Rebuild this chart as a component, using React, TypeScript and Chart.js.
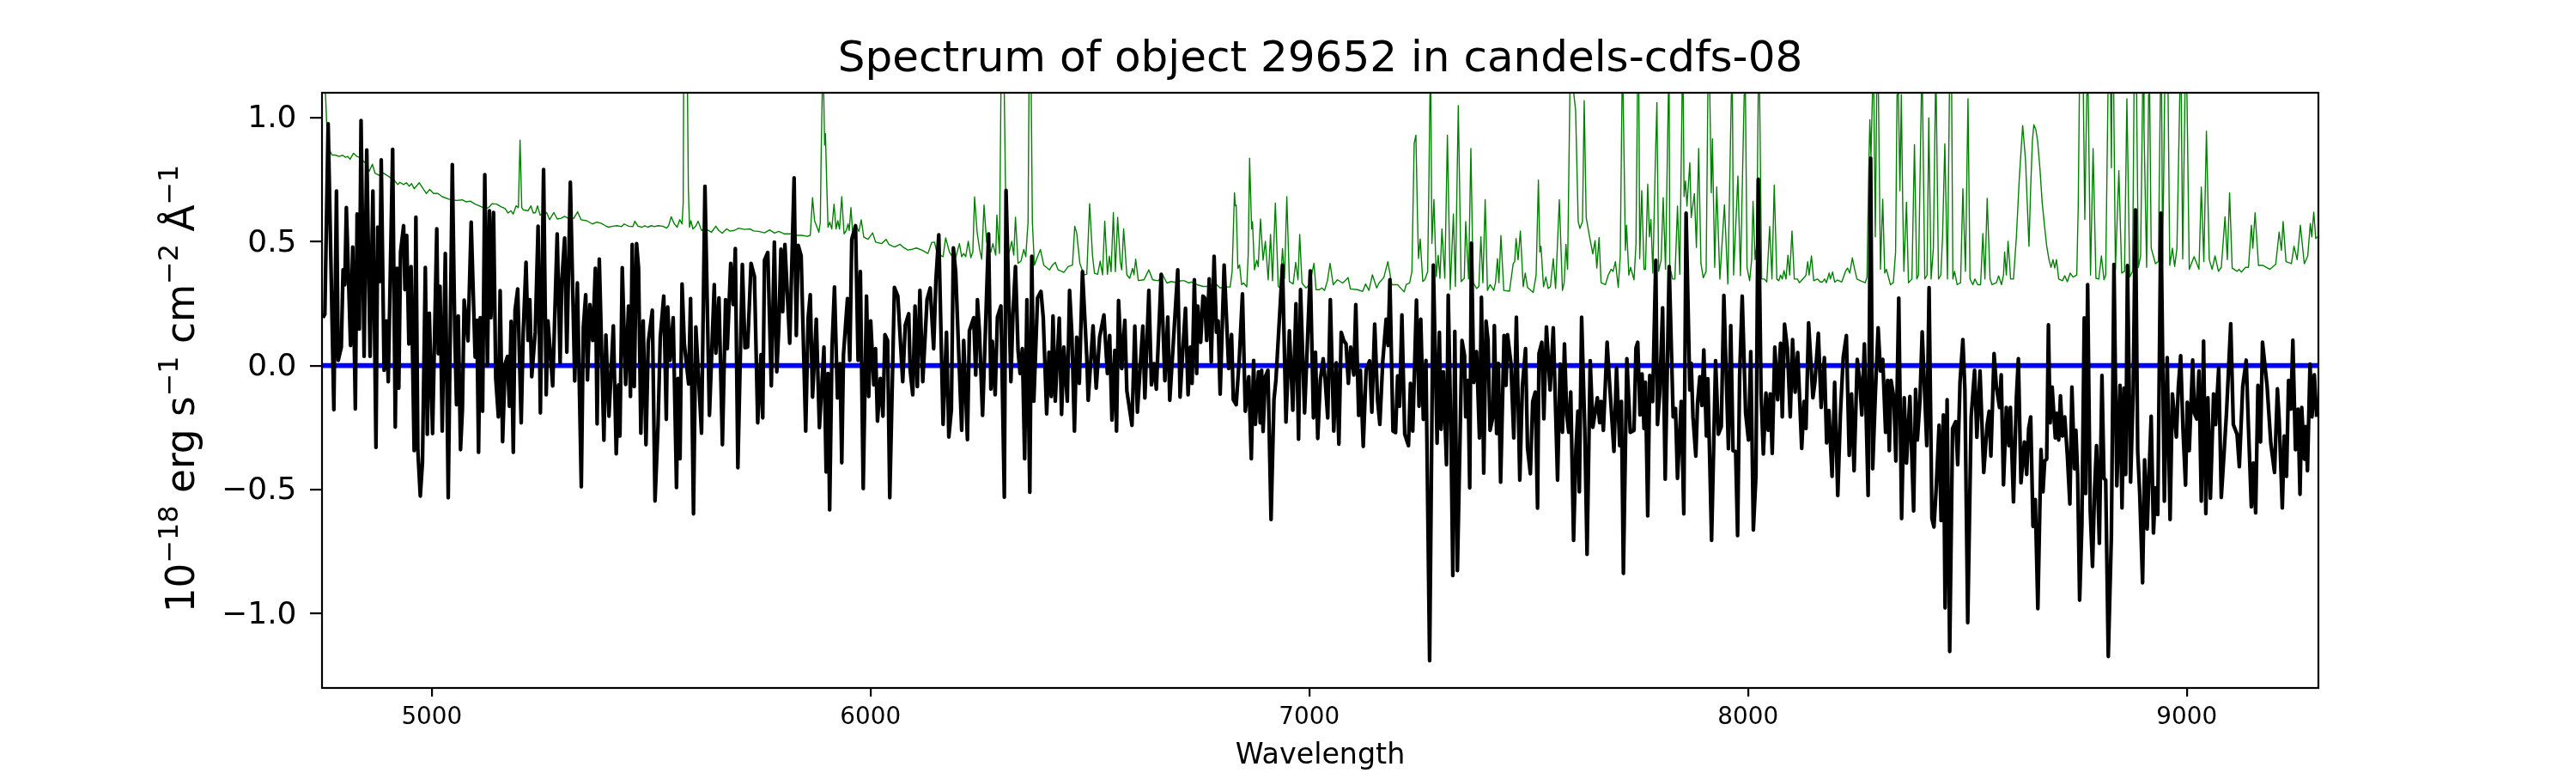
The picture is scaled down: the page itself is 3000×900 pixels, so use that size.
import React, { useEffect, useRef } from "react";
import { Chart, registerables } from "chart.js";

Chart.register(...registerables);

const titleText = "Spectrum of object 29652 in candels-cdfs-08";
const xAxisLabel = "Wavelength";
const yAxisRuns: [string, boolean][] = [
  ["10", false], ["\u221218", true], [" erg s", false], ["\u22121", true],
  [" cm", false], ["\u22122", true], [" Å", false], ["\u22121", true],
];
const xTickValues = [5000, 6000, 7000, 8000, 9000];
const yTickValues = [-1, -0.5, 0, 0.5, 1];
const xRange = [4750, 9300];
const yRange = [-1.3, 1.1];

const zeroWavelength = [4750, 9300];
const zeroFlux = [0, 0];

const sciWavelength = [
4752,4756.5,4764,4771.5,4777,4783,4787,4794,4798,4802,4805.5,4810,4815,4820,4826,4830,4835,4839,4846,4852,4859.6,4866,4873,4877,4882,4885,4891.5,4897,4901,4911,4917,4921,4925,4929,4936,4939,4943,4948,4953,4960,4964,4968.5,4974,4979,4985.5,4990,4994.6,5002,5011.6,5015,5019,5024,5031,5037.7,5047,5052.7,5056.6,5060.5,5065.7,5070,5074,5082.7,5090,5099,5103,5106.8,5110.7,5116,5121,5127,5131.6,5135,5141,5146,5152,5156,5161.6,5167.5,5172.7,5177,5181,5186,5190,5196,5204,5208.6,5215,5219.7,5223.6,5228,5236,5242.5,5247.7,5255,5261,5265,5275.8,5286,5292.7,5296.6,5303,5308,5316,5326,5332,5341,5345.6,5351,5355,5360.6,5367,5373,5377,5382,5392.5,5397,5404,
5414,5420.6,5425.8,5429,5434.3,5442,5448.6,5453,5457,5461.7,5467,5471.5,5476.7,5482,5488.4,5493.6,5502.8,5509,5515.8,5521,5528.9,5534.7,5538,5543,5550.4,5558,5561.5,5566,5570.6,5575.8,5585.6,5590,5596.7,5602,5615,5622.8,5633,5644,5647.6,5654.7,5662.6,5669.8,5673.7,5681.5,5687.4,5692,5697.8,5708,5714,5720,5724,5727.8,5735.6,5743,5750.6,5754.5,5758.5,5766,5774,5781,5786.5,5791,5796,5800,5805,5816,5826,5831,5835.4,5842,5852.4,5858,5862.8,5868,5876.5,5883.7,5889,5894,5899,5903.3,5907,5912.4,5918,5924.8,5930.7,5934.6,5938.5,5947.6,5952.9,5957.4,5966,5971.8,5977,5983.5,5991,5996,6000.5,6007.7,6011.6,6016,6022.6,6028.5,6033,6039,6044,
6054.6,6062.4,6073.5,6079.4,6087.2,6090.5,6096.4,6101.6,6106.8,6112.7,6119.2,6129,6136.2,6144,6149.2,6155.7,6165.5,6173.3,6178.6,6184.4,6189,6194.2,6200.7,6207.9,6212.5,6221,6225.5,6235.3,6239.9,6243.8,6248.4,6255.5,6261.4,6269.2,6274.4,6277.7,6284.2,6289.4,6297.3,6305.1,6309,6320.1,6324.7,6330.5,6336.4,6341,6346.2,6351.4,6356.6,6363.2,6367.7,6372.3,6380.8,6388.6,6393.8,6401.6,6406.9,6412.1,6416,6421.2,6430.3,6435.6,6440.8,6448.6,6453.8,6459,6464.9,6470.1,6476,6483.2,6493,6496.2,6507.3,6514.5,6522.3,6532.1,6540,6545.2,6550.4,6556.9,6560.8,6565.4,6572.6,6579.7,6584.3,6596,6602.5,6608.4,6613.6,6620.8,6625.4,6634.5,6640.4,6646.3,6651.5,6662.6,6671,6677.6,6682.1,6688.7,6700.4,
6705.6,6712.1,6718,6723.9,6729.1,6733,6738.2,6743.5,6746.1,6752.6,6757.8,6761.7,6766.3,6772.2,6776.7,6783.2,6788.5,6792.4,6797,6806.1,6816.5,6823,6827,6833.5,6840.6,6847.8,6854.3,6862.2,6868,6873.3,6877.2,6884.4,6888.3,6891.5,6894.8,6900,6905.9,6913,6919.6,6924.1,6939.1,6947,6954.8,6962.6,6969.8,6975.7,6980.2,6989.4,7002.4,7009.6,7014.2,7019.4,7025.3,7031.8,7036.3,7042.2,7048.1,7055.9,7061.8,7067.6,7072.9,7078.7,7083.9,7089.2,7094.4,7101.6,7106.1,7112.7,7116.6,7123.1,7129.6,7137.5,7142.7,7149.2,7155.7,7160.9,7167.5,7175.3,7179.8,7183.8,7190.9,7196.8,7201.4,7205.9,7211.2,7217.7,7226.2,7230.7,7235.9,7244.4,7250.3,7254.2,7260.1,7266,7274.4,7282.9,7291.4,7296.6,7300.5,7305.7,7312.9,7316.8,7323.4,7327.3,7331.8,7337.7,7348.1,
7354,7356.6,7361.8,7365.8,7369.7,7374.9,7381.4,7388,7392.5,7397.7,7403,7407.5,7412.1,7418.6,7421.9,7427.1,7431,7436.2,7444,7448.6,7451.9,7459.7,7466.2,7472.1,7479.9,7485.8,7493,7497.5,7504,7509.3,7515.1,7520.4,7523.6,7530.1,7534.7,7540.6,7549,7556.2,7566,7571.9,7577.1,7581.7,7586.9,7591.5,7596,7602.5,7607.8,7612.3,7615.6,7620.8,7628,7633.2,7640.4,7646.3,7656.7,7661.9,7665.2,7670.4,7678.9,7684.7,7694.5,7700.4,7707.6,7711.5,7716,7723.9,7731.7,7740.2,7744.7,7748.7,7753.9,7758.5,7763,7766.3,7771.5,7776.1,7782.6,7789.8,7793.7,7798.9,7805.4,7811.3,7820.4,7829.5,7834.8,7839.3,7847.8,7853.7,7858.9,7867.4,7870.6,7874.6,7881.1,7885,7890.2,7894.8,7899.3,7905.2,7908.5,7917,7926.1,7932.6,7939.1,7945,7955.4,7960.7,7965.9,7971.8,7976.3,7980.9,7986.8,7994.6,8001.1,
8006.3,8012.2,8018.1,8023.3,8029.8,8035,8040.9,8046.1,8050.7,8055.2,8061.1,8067.6,8074.2,8078.1,8083.3,8089.8,8096.3,8101.6,8107.4,8113.3,8122.4,8127.7,8132.2,8138.1,8147.9,8152.4,8160.3,8166.8,8174,8179.2,8184.4,8191.6,8197.5,8204.6,8210.5,8217,8224.2,8230.7,8235.9,8241.8,8249,8254.2,8259.4,8265.3,8273.8,8279.6,8284.2,8290.1,8296.6,8301.8,8307.1,8313.6,8318.1,8322,8326,8332.5,8337,8343.6,8350.1,8356,8361.2,8369,8377.5,8382,8386,8391.8,8397,8407.5,8412.7,8419.2,8423.8,8429,8435.5,8440.1,8445.3,8449.2,8453.8,8459.7,8466.2,8473.4,8478,8483.2,8489.7,8494.3,8500.8,8508.6,8516.4,8521.6,8528.8,8537.3,8545.1,8549.7,8553.6,8560.8,8566,8573.2,8577.1,8582.3,8588.8,8594.7,8598,8605.1,8611.7,8616.2,8622.1,8629.9,8635.1,8639.7,8644.3,8649.5,
8654.7,8660.6,8667.8,8672.3,8676.2,8680.8,8684.7,8688.6,8693.2,8700.4,8703.6,8708.2,8712.1,8716.7,8721.9,8727.8,8733.6,8738.2,8744.1,8747.3,8751.3,8755.8,8761,8766.3,8769.5,8774.1,8780,8785.2,8789.8,8794.3,8800.8,8806.7,8811.3,8815.2,8821.1,8828.2,8834.1,8840.6,8847.8,8852.4,8856.9,8860.9,8864.8,8871.9,8877.8,8883,8888.2,8892.8,8899.3,8903.9,8909.8,8913.7,8918.9,8924.1,8928.7,8933.9,8941.1,8948.9,8955.4,8962,8967.2,8976.3,8980.9,8986.1,8991.3,8997.2,9001.1,9005.7,9013.5,9017.4,9022.6,9027.8,9033.1,9038.3,9043.5,9048.1,9053.9,9061.1,9065.7,9072.8,9078.7,9085.2,9090.5,9100.2,9106.1,9114.6,9119.8,9127.6,9135.5,9140.7,9147.2,9151.8,9157,9162.2,9168.1,9172.6,9183.1,9191.6,9200,9206.6,9210.5,9217.7,9222.2,9227.4,9232,9237.2,9241.8,9247.7,9253.5,9258.1,9262,9267.9,9271.1,9275.1,9280.9,9285.5,9290.7,9296,
];

const sciFlux = [
.193,.207,.975,.313,-.178,.704,.021,.074,.386,.326,.637,.379,.081,.478,-.175,.611,.147,.988,.037,.869,.037,.704,-.33,.558,.339,.829,-.019,.18,-.065,.872,-.248,.392,-.091,.458,.564,.306,.525,.087,.399,-.343,.598,-.343,-.526,-.39,.396,-.277,.211,-.274,.551,.048,.319,-.264,.452,-.533,.81,.127,-.158,.2,-.339,-.178,.264,.1,.578,.034,.183,-.35,.193,-.184,.77,.001,.624,.193,.617,-.052,-.207,.302,-.307,.008,.037,-.164,.178,-.35,.223,.309,-.231,.134,.416,.101,.266,-.045,.134,.562,-.191,.79,-.118,.18,-.082,.531,.011,.342,.514,.054,.739,-.062,.333,-.489,.154,.286,-.058,.246,.101,.392,-.235,.429,-.301,.123,-.204,
.16,-.356,-.078,-.284,.395,-.076,.24,-.125,.488,-.085,.492,.392,-.273,.18,-.319,.094,.223,-.546,-.244,.114,.28,-.217,.236,.021,.193,-.492,-.052,-.376,.329,.087,-.074,.27,-.598,.156,-.273,.723,-.201,.326,.05,.273,-.319,.266,.068,.412,.246,.472,-.412,.408,.072,.074,.246,.412,.359,-.231,.044,-.211,.425,.456,-.082,.498,-.025,.147,.469,.217,.488,.09,.757,.121,.485,.443,-.264,.193,.286,-.127,.187,-.25,-.085,.074,-.429,-.032,-.582,.074,.317,-.131,.008,-.392,.044,.27,.021,.509,.564,.021,.379,-.496,.28,-.125,.18,-.078,.068,-.224,-.052,-.204,.125,.101,-.533,
.315,.28,-.065,.164,.209,-.019,-.118,.24,-.085,.303,-.065,.266,.313,.068,.346,.527,-.237,.134,-.288,-.178,.474,.379,.074,-.261,.101,-.299,.14,.193,-.038,.266,.134,-.201,.107,.531,-.095,.098,-.118,.196,.24,-.531,.706,-.065,.207,.399,.061,-.032,.068,-.376,.266,-.511,.441,-.144,.273,.299,.193,-.195,.054,-.125,.2,-.144,.191,-.197,.074,-.144,.303,.127,-.264,.114,-.072,.379,.034,-.14,.16,-.091,.114,.204,-.032,.121,-.22,.061,-.264,.262,-.012,.183,-.101,-.241,.159,-.188,-.038,.159,-.131,.303,-.078,.008,-.095,.368,-.061,.196,-.14,.048,.386,
-.127,.068,.231,-.118,.074,-.072,.346,-.032,.24,.094,.28,.273,.101,.35,.015,.441,.134,.18,-.115,.405,-.012,.125,-.138,-.158,.028,.289,-.184,-.045,-.376,.021,-.237,-.025,-.231,-.019,-.266,-.045,-.019,-.621,-.138,-.058,.405,-.228,.14,-.18,.249,-.297,.306,-.191,.382,-.211,.054,-.294,-.058,.028,-.058,-.211,.266,-.264,.011,-.317,.134,.101,.087,-.072,.074,-.038,.246,-.201,-.019,-.326,-.019,.019,-.188,.167,-.138,-.237,.015,.187,.081,.346,-.264,-.27,-.042,-.164,.204,-.277,-.323,-.072,-.264,.264,-.164,.187,-.217,.021,-1.19,.405,-.313,.134,-.257,-.025,-.4,.284,-.323,-.847,.138,-.827,.101,
.04,-.207,-.06,-.493,.493,-.068,.056,-.292,.275,-.434,.179,.102,-.261,-.207,.161,-.274,.009,-.47,.121,-.08,.125,.009,-.292,.195,-.462,-.083,.068,-.331,-.436,-.145,-.107,-.575,.048,.094,-.215,.156,-.099,.152,-.462,.006,-.269,.087,-.199,-.269,-.107,-.705,-.339,-.184,-.509,.195,-.254,-.761,.02,-.249,-.13,-.23,-.145,-.261,.094,-.076,-.346,-.009,-.323,-.145,-.838,.028,-.269,-.261,.071,.094,-.199,-.034,-.254,-.068,-.606,-.04,-.145,.424,-.238,-.107,.233,-.458,.399,-.207,-.173,-.455,-.145,-.598,.615,-.099,.009,-.207,-.365,-.153,-.045,-.161,.063,-.284,-.053,-.705,.02,-.277,-.246,.283,-.335,.161,-.343,-.346,-.686,-.045,.28,-.192,-.3,
.056,-.663,-.444,.751,-.114,-.357,-.111,-.261,-.114,-.354,.074,-.138,.09,-.207,.167,.068,-.207,.105,-.107,.053,-.334,-.145,-.254,.172,-.13,-.068,.13,-.169,.032,-.312,-.181,-.447,-.068,-.524,-.199,.032,.121,-.362,-.114,-.424,.025,-.053,-.199,.087,-.524,.836,-.416,-.122,.152,-.022,.025,-.269,-.06,-.343,-.06,-.13,-.385,.272,-.617,-.13,-.393,-.125,-.586,-.096,-.3,-.145,.136,-.323,.314,-.617,-.651,-.493,-.241,-.625,-.199,-.977,-.138,-1.153,-.254,-.226,-.4,-.068,.105,-.096,-1.037,-.207,-.019,-.289,-.022,-.431,-.238,-.184,-.365,.048,-.083,-.169,-.037,-.481,-.169,-.323,-.169,-.55,-.13,.028,-.473,-.308,-.439,-.254,-.207,-.648,
-.54,-.98,-.339,-.509,-.385,-.377,.164,-.231,-.087,-.292,-.192,-.3,-.122,-.284,-.207,-.362,-.558,-.087,-.416,-.261,-.439,-.946,-.64,.192,-.516,.326,-.586,-.81,-.501,-.323,-.717,-.04,-.455,-.462,-1.173,-.686,.408,-.485,-.08,-.574,-.091,-.439,.403,-.47,-.114,.628,-.346,-.516,-.876,-.38,-.659,-.455,-.204,-.675,-.493,-.601,.615,-.547,.032,-.621,-.114,-.288,-.083,.04,-.254,-.482,-.148,-.343,.022,-.192,-.215,-.022,-.547,.099,-.597,-.13,-.535,-.114,-.238,-.009,-.532,-.346,-.192,.169,-.238,-.277,-.408,-.083,.022,-.254,-.57,-.393,-.594,-.08,-.308,.094,-.083,-.315,-.431,-.094,-.215,-.574,-.284,-.447,-.06,-.176,.102,-.339,-.176,-.519,-.169,-.377,-.246,-.424,.006,-.207,-.037,-.207,
];

const noiseWavelength = [
4750,4758,4760.4,4764.4,4772.8,4779.4,4789,4797,4803.5,4808.7,4814,4821.8,4829.6,4836,4847.8,4857.6,4864.8,4870.7,4880.5,4890.2,4903.3,4913,4922.9,4927.4,4935.9,4942.4,4949,4954.2,4960,4971.8,4981.6,4988,4995.3,5004.4,5014,5024,5040.3,5056.6,5069.6,5079.4,5087.9,5099,5114,5121.8,5129.6,5138,5147.9,5157.7,5167.5,5174,5180.5,5185.7,5192.3,5197.5,5201.4,5205.3,5208.6,5219.7,5226.2,5231.4,5236.6,5241.2,5247,5255.5,5262,5268.6,5278.4,5286.2,5294.7,5303,5311,5324,5332.5,5340.3,5353.4,5366.4,5376.2,5386,5395.8,
5403,5412.7,5422.5,5432.3,5438.8,5448.6,5458.4,5463,5470.1,5479.3,5485.8,5492.3,5500.8,5507.3,5515.8,5526.9,5535.4,5540,5545.8,5553,5559.5,5565.4,5570.6,5573.2,5577,5580,5583,5585,5587.6,5590.8,5595.4,5601.9,5607.1,5615,5624.7,5637.8,5647.6,5654.1,5662,5672.4,5680.2,5690,5699.8,5712.8,5725.9,5733.7,5745.4,5758.5,5770.2,5781.3,5791,5804.1,5817.2,5830.2,5843.3,5856.3,5862.8,5868,5872.6,5882.4,5885.7,5887.6,5890,5892,5893.5,5895.5,5897.4,5900.7,5903.3,5907.2,5911.8,5917,5921.5,5925.5,5929.4,5934.6,5939.8,5945,5949,5951.6,5955.5,5959.4,5968.5,5973.7,5979,5984.8,5994.6,6005,6011.6,6025.9,6035.7,6042.2,6055,
6067.7,6075.5,6085.3,6095,6104.8,6117.9,6131,6139.4,6146,6151.8,6165.5,6171.4,6179.9,6186.4,6194.2,6202.7,6207.9,6212.5,6217,6222.9,6228.8,6233.3,6237.3,6243.1,6248.4,6253.6,6258.8,6264.7,6274.4,6279,6285.5,6288.1,6294,6297.3,6300,6302.5,6305,6307.7,6313.6,6318.1,6322,6326.6,6330.5,6336.4,6342.9,6349.5,6354,6357.3,6359.2,6361.2,6363.2,6365,6366.4,6369,6373.6,6380.8,6387.3,6395,6408.2,6414.7,6421.2,6427.7,6440.8,6450.6,6460.4,6465.6,6470,6477.3,6486.4,6493,6499.5,6506,6510.6,6517.8,6523.6,6528.9,6534,6540,6544.5,6548.4,6553.6,6558.2,6563.4,6569.3,6572.6,6577,6584.3,6590.8,6597.3,6600.6,6604.5,6610.4,6623.4,6634.5,6643,6656,6665.8,6675.6,6685.4,6701.7,
6707,6715.4,6725.2,6731.7,6744.8,6757.8,6770.9,6780.6,6787.2,6797,6806.7,6819.8,6824.3,6829.6,6831.5,6833.5,6837.4,6841.3,6845.9,6850.4,6857.6,6860.9,6864.1,6868.7,6870.7,6875.2,6880.4,6883.7,6888.9,6894.8,6900,6906.5,6911.8,6916.3,6922.8,6929.4,6933.9,6939.1,6943.7,6948.9,6954.8,6963.3,6969.2,6974.4,6978.3,6983.5,6992.6,7000.5,7010.9,7015.5,7023.3,7028.5,7035,7041.5,7047.4,7054.6,7064.4,7076.1,7084,7088.5,7093.7,7110,7121.8,7128.3,7136.1,7144,7153.8,7159,7170,7179.2,7188.3,7194.9,7201.4,7216.4,7221,7228.8,7234,7239.2,7243.1,7247,7249,7252.9,7258.8,7263.3,7269.9,7272.5,7275.1,7276.4,7279.6,7284.2,7289.4,7294,7297.9,7302.5,7309,7314.9,7321.4,7328.6,7333.1,7339.7,7346.2,7353.4,
7356.6,7363.2,7368.4,7373.6,7381.4,7386.6,7391.2,7395.8,7401,7406.2,7412.1,7420.6,7424.5,7429,7432.3,7436.9,7443.4,7456.4,7464.9,7468.2,7471.4,7476,7481.2,7487.7,7492.3,7497.5,7510.6,7517.1,7522.3,7525.6,7528.2,7534,7539.3,7544.5,7549.7,7556.2,7561.5,7570,7577.1,7581,7585,7588.8,7594,7596.7,7601.9,7603.2,7607.1,7613,7616.9,7622.8,7626.7,7631.2,7639,7646.3,7651.5,7655.4,7660.6,7665.2,7675,7681.5,7688,7692.6,7697.8,7704.3,7708.9,7712.8,7714,7715.4,7720.6,7723.2,7728.4,7732.4,7740.2,7744.7,7748,7749.3,7751.3,7753.2,7757.8,7763,7766.3,7771.5,7775.4,7778.7,7783.2,7788.5,7792.4,7796.3,7802.1,7806.7,7812,7818.5,7819.8,7821.7,7828.2,7833.4,7839.3,7844.5,7849.8,7851,7854.3,7857.6,7860.9,7867.4,7870.6,7877.8,7882.4,7887.6,7892.8,7898,7904.6,7908.5,7910.4,7913,7916.3,7918.9,7924.1,7928.7,7935.9,7946.3,7954.1,7962,7963.3,7967.2,7977,7982.8,7991.3,7992.6,7997.8,
8003.7,8008.3,8011.5,8016.1,8020,8023.3,8024.6,8026.5,8031.1,8037.6,8042.9,8049.4,8054.6,8059.8,8065.7,8070.3,8074.2,8078.1,8082,8086.6,8091.1,8095,8100.3,8105.5,8112.7,8117.2,8129,8132.2,8136.1,8139.4,8144.6,8149.8,8158.3,8164.8,8169.4,8174.6,8178.5,8185,8187.7,8192.9,8197.5,8204,8213.8,8222.2,8226.8,8232,8237.9,8243.1,8248.3,8256.2,8267.2,8271.2,8274.4,8277.7,8280.3,8283.6,8284.9,8286.8,8290.1,8293.3,8295.3,8297.3,8301.8,8307,8311.6,8315.5,8324.7,8331.2,8336.4,8339.7,8341,8342.9,8346.2,8349.4,8352.7,8355.3,8361.2,8365.7,8373.6,8379.4,8384.7,8388.6,8395.1,8396.4,8397.7,8402.9,8408.1,8412,8417.3,8422.5,8427.1,8427.7,8429,8434.2,8439.5,8443.4,8448.6,8454.5,8459,8461.6,8464.2,8466.9,8470.8,8476.6,8484.5,8489.7,8495.6,8501.4,8506,8512.5,8517.1,8523.6,8530.1,8535.3,8540,8545.1,8551.7,8556.2,8566,8571.2,8577.7,8582.3,8584.9,8588.8,8592.7,8598.6,8605.1,8611.7,8618.2,8626,8632.5,8640.4,8644.3,8648.2,
8651.5,8656,8660,8665.2,8670.4,8675.6,8680.8,8686,8690.6,8695.2,8699.1,8703,8708.2,8716.7,8721.9,8727.8,8734.3,8740.8,8749.3,8752.6,8755.2,8759.7,8764.3,8767.6,8772.1,8773.4,8775.4,8780.6,8786.5,8793,8799.5,8805.4,8811.3,8815.2,8820.4,8824.3,8828.2,8830.8,8833.5,8837.4,8845.2,8851.7,8858.2,8863.5,8870,8876.5,8879.8,8883,8885.6,8889.6,8894.8,8899.3,8901.3,8902.6,8908.5,8913,8914.3,8918.9,8928.7,8935.2,8939.8,8941.7,8945,8949.6,8953.5,8957.4,8961.3,8967.2,8972.4,8977.6,8984.1,8986,8990.7,8995.9,8998.5,9000.4,9005.7,9016.7,9027.8,9033.1,9038.9,9044.8,9051.3,9057.8,9064.4,9072.2,9078.7,9087.2,9092.4,9097.6,9103.5,9114.6,9119.2,9124.4,9134.2,9140.7,9147.2,9150.5,9155.7,9163.5,9173.3,9189.6,9202.7,9210.5,9215.7,9219.6,9226.2,9238.5,9244.4,9251.6,9258.8,9267.9,9275.7,9281.6,9284.9,9289.4,9294,9297.2,
];

const noiseFlux = [
1.5,1.094,.988,.88,.849,.849,.843,.848,.84,.843,.832,.856,.843,.839,.819,.783,.812,.776,.767,.776,.761,.75,.73,.739,.73,.737,.723,.734,.713,.737,.71,.694,.71,.694,.694,.681,.67,.666,.668,.66,.663,.651,.64,.633,.637,.653,.651,.641,.633,.615,.624,.611,.644,.637,.909,.637,.628,.624,.644,.615,.617,.644,.607,.611,.617,.588,.617,.591,.594,.602,.594,.594,.62,.588,.584,.571,.578,.574,.564,
.558,.562,.564,.56,.571,.562,.56,.582,.562,.558,.564,.558,.564,.56,.564,.562,.554,.564,.6,.571,.558,.588,.571,.657,2.5,2.5,1.1,.71,.558,.584,.551,.562,.582,.545,.551,.538,.562,.545,.534,.551,.542,.545,.554,.549,.551,.543,.541,.535,.547,.534,.541,.531,.531,.525,.525,.521,.525,.677,.584,.538,.578,.843,1.094,1.6,1.094,.889,.935,.71,.558,.578,.551,.651,.551,.584,.551,.681,.531,.545,.571,.545,.637,.538,.558,.541,.588,.518,.509,.535,.498,.492,.509,.488,.478,
.489,.476,.466,.469,.474,.465,.452,.496,.498,.452,.439,.515,.458,.439,.435,.492,.439,.452,.439,.501,.435,.458,.68,.538,.472,.429,.647,.498,.458,.492,.445,.607,.452,1.094,3,3,1.094,.73,.439,.472,.501,.445,.598,.412,.421,.468,.439,.531,.578,1.094,1.8,1.8,1.094,.578,.405,.439,.468,.405,.386,.405,.416,.386,.376,.399,.405,.562,.535,.412,.366,.368,.653,.445,.372,.368,.421,.366,.582,.368,.441,.379,.617,.379,.598,.419,.386,.551,.366,.352,.392,.366,.429,.343,.346,.386,.346,.342,.366,.333,.339,.333,
.342,.342,.333,.337,.326,.319,.319,.326,.329,.313,.317,.317,.379,.697,.644,.647,.392,.405,.326,.333,.317,.445,.836,.551,.58,.386,.425,.399,.591,.425,.501,.346,.529,.342,.655,.319,.313,.472,.352,.681,.339,.329,.416,.346,.529,.333,.313,.326,.412,.306,.306,.313,.303,.342,.412,.326,.346,.333,.346,.355,.309,.306,.299,.329,.303,.366,.313,.333,.355,.419,.326,.326,.326,.297,.326,.333,.379,.896,.929,.578,.432,.511,.339,.346,.379,.71,1.094,1.3,.492,.67,.359,.445,.352,.551,.352,.929,.306,.611,.319,1.048,.339,.352,
.581,.349,.875,.334,.311,.318,.519,.334,.669,.303,.326,.303,.334,.431,.334,.524,.303,.3,.411,.419,.512,.427,.543,.318,.373,.315,.295,.365,.748,.458,.481,.318,.357,.311,.318,.431,.311,.669,.303,.334,.489,.388,1.092,1.3,1.25,1.092,1.03,.581,.553,.581,1.068,.597,.519,.45,.504,.393,.516,.334,.326,.365,.388,.38,.419,.315,.442,1.092,1.4,1.092,.465,.566,.365,.396,.346,.489,1.092,1.5,1.092,.431,.705,.388,.388,.731,.519,.589,.373,.798,1.06,.38,.427,.677,.388,1.092,1.4,.396,.349,.349,.643,.368,1.092,1.4,.682,.744,.643,.818,.597,.693,.476,.875,.411,.354,.38,1.092,1.4,1.092,.697,.914,.396,.72,.349,.648,.329,1.092,1.4,.365,.764,.362,1.092,1.4,.396,
.342,.427,.662,.427,.489,1.092,1.5,1.092,.349,.349,.337,.561,.349,.728,.349,.342,.365,.349,.383,.349,.445,.365,.543,.349,.349,.334,.357,.365,.419,.365,.442,.342,.349,.337,.337,.349,.334,.373,.349,.377,.337,.345,.337,.38,.393,.373,.434,.388,.349,.342,.334,.357,.72,.991,.844,1.092,1.4,1.092,.519,1.092,1.4,1.092,.388,.671,.373,.388,.326,.334,.458,1.092,1.4,1.092,.705,1.092,.643,.38,.659,.334,.349,.891,.349,.365,1.092,1.4,1.092,.349,.365,.999,.349,.473,1.092,1.3,1.092,.349,.365,.519,.894,.349,1.092,1.4,1.092,.349,.38,.326,.334,.713,.38,1.076,.349,.326,.349,.326,.326,.532,.349,.674,.349,.326,.334,.362,.326,.365,.458,.365,.501,.349,.349,.519,.751,.968,.829,.481,.72,.906,
.971,.952,.906,.798,.659,.566,.481,.427,.396,.427,.393,.427,.349,.342,.362,.338,.373,.357,.365,.643,1.092,1.5,1.092,.589,1.092,1.4,1.092,.365,.875,.352,.349,.442,.346,.365,1.092,1.5,.798,1.5,1.092,.388,.786,.373,.38,1.076,.357,.38,1.092,1.5,1.092,.396,.442,1.092,1.3,.952,.396,1.092,1.3,.473,.411,.419,1.092,1.4,.411,1.092,1.5,1.092,.404,.473,.4,.473,1.092,1.4,.43,1.092,1.4,1.092,.388,.439,.388,.72,.419,.945,.427,.388,.442,.38,.396,.6,.427,.697,.393,.38,.388,.377,.396,.396,.566,.473,.616,.404,.404,.388,.408,.538,.465,.581,.419,.411,.481,.427,.566,.411,.442,.573,.519,.619,.512,.519,
];

const zip = (xs: number[], ys: number[]) =>
  xs.slice(0, Math.min(xs.length, ys.length)).map((x, i) => ({ x, y: ys[i] }));

const FONT = "'DejaVu Sans'";
const Y_LABEL_SIZE = 45.4;
const Y_SUP_SIZE = 31.8;

const frame = {
  id: "frame",
  afterDatasetsDraw(chart: any) {
    const { ctx, chartArea: a } = chart;
    ctx.save();
    ctx.strokeStyle = "#000";
    ctx.lineWidth = 2.2;
    ctx.strokeRect(a.left, a.top, a.right - a.left, a.bottom - a.top);
    ctx.restore();
  },
};

const yAxisTitle = {
  id: "yAxisTitle",
  afterDraw(chart: any) {
    const { ctx, chartArea: a } = chart;
    const fontFor = (sup: boolean) => `${sup ? Y_SUP_SIZE : Y_LABEL_SIZE}px ${FONT}`;
    ctx.save();
    let total = 0;
    for (const [text, sup] of yAxisRuns) {
      ctx.font = fontFor(sup);
      total += ctx.measureText(text).width;
    }
    ctx.translate(226, (a.top + a.bottom) / 2 - 2);
    ctx.rotate(-Math.PI / 2);
    ctx.fillStyle = "#000";
    ctx.textAlign = "left";
    ctx.textBaseline = "alphabetic";
    let x = -total / 2;
    for (const [text, sup] of yAxisRuns) {
      ctx.font = fontFor(sup);
      ctx.fillText(text, x, sup ? -19 : 0);
      x += ctx.measureText(text).width;
    }
    ctx.restore();
  },
};

export default function App() {
  const ref = useRef<HTMLCanvasElement>(null);
  useEffect(() => {
    document.body.style.margin = "0";
    const chart = new Chart(ref.current as HTMLCanvasElement, {
      type: "line",
      data: {
        datasets: [
          { label: "flux", data: zip(sciWavelength, sciFlux), borderColor: "#000000", borderWidth: 4.3, order: 0 },
          { label: "zero", data: zip(zeroWavelength, zeroFlux), borderColor: "#0000ff", borderWidth: 5.56, order: 1 },
          { label: "noise", data: zip(noiseWavelength, noiseFlux), borderColor: "#008000", borderWidth: 1.39, order: 2 },
        ],
      },
      options: {
        responsive: false,
        devicePixelRatio: 1,
        animation: false,
        elements: { point: { radius: 0 }, line: { tension: 0, borderJoinStyle: "round" } },
        layout: { padding: { left: 0, right: 300, top: 0, bottom: 0 } },
        plugins: {
          legend: { display: false },
          tooltip: { enabled: false },
          title: {
            display: true,
            text: titleText,
            color: "#000",
            fullSize: false,
            font: { family: FONT, size: 50, weight: "normal", lineHeight: 1.2 },
            padding: { top: 40, bottom: 8 },
          },
        },
        scales: {
          x: {
            type: "linear",
            min: xRange[0],
            max: xRange[1],
            afterBuildTicks: (s: any) => { s.ticks = xTickValues.map((value) => ({ value })); },
            afterFit: (s: any) => { s.height = 99; },
            grid: { drawOnChartArea: false, drawTicks: true, tickLength: 10, tickColor: "#000", tickWidth: 2.2, lineWidth: 2.2 },
            border: { display: false },
            ticks: {
              color: "#000",
              font: { family: FONT, size: 27.8 },
              padding: 8,
              maxRotation: 0,
              autoSkip: false,
              callback: (v: any) => String(v),
            },
            title: {
              display: true,
              text: xAxisLabel,
              color: "#000",
              font: { family: FONT, size: 33.3 },
              padding: { top: 0, bottom: 0 },
            },
          },
          y: {
            type: "linear",
            min: yRange[0],
            max: yRange[1],
            afterBuildTicks: (s: any) => { s.ticks = yTickValues.map((value) => ({ value })); },
            afterFit: (s: any) => { s.width = 375; },
            grid: { drawOnChartArea: false, drawTicks: true, tickLength: 14, tickColor: "#000", tickWidth: 2.2, lineWidth: 2.2 },
            border: { display: false },
            ticks: {
              color: "#000",
              font: { family: FONT, size: 36 },
              padding: 15.5,
              labelOffset: 2,
              autoSkip: false,
              callback: (v: any) => Number(v).toFixed(1).replace("-", "\u2212"),
            },
          },
        },
      },
      plugins: [frame, yAxisTitle],
    } as any);
    return () => chart.destroy();
  }, []);
  return <canvas ref={ref} width={3000} height={900} style={{ display: "block" }} />;
}
